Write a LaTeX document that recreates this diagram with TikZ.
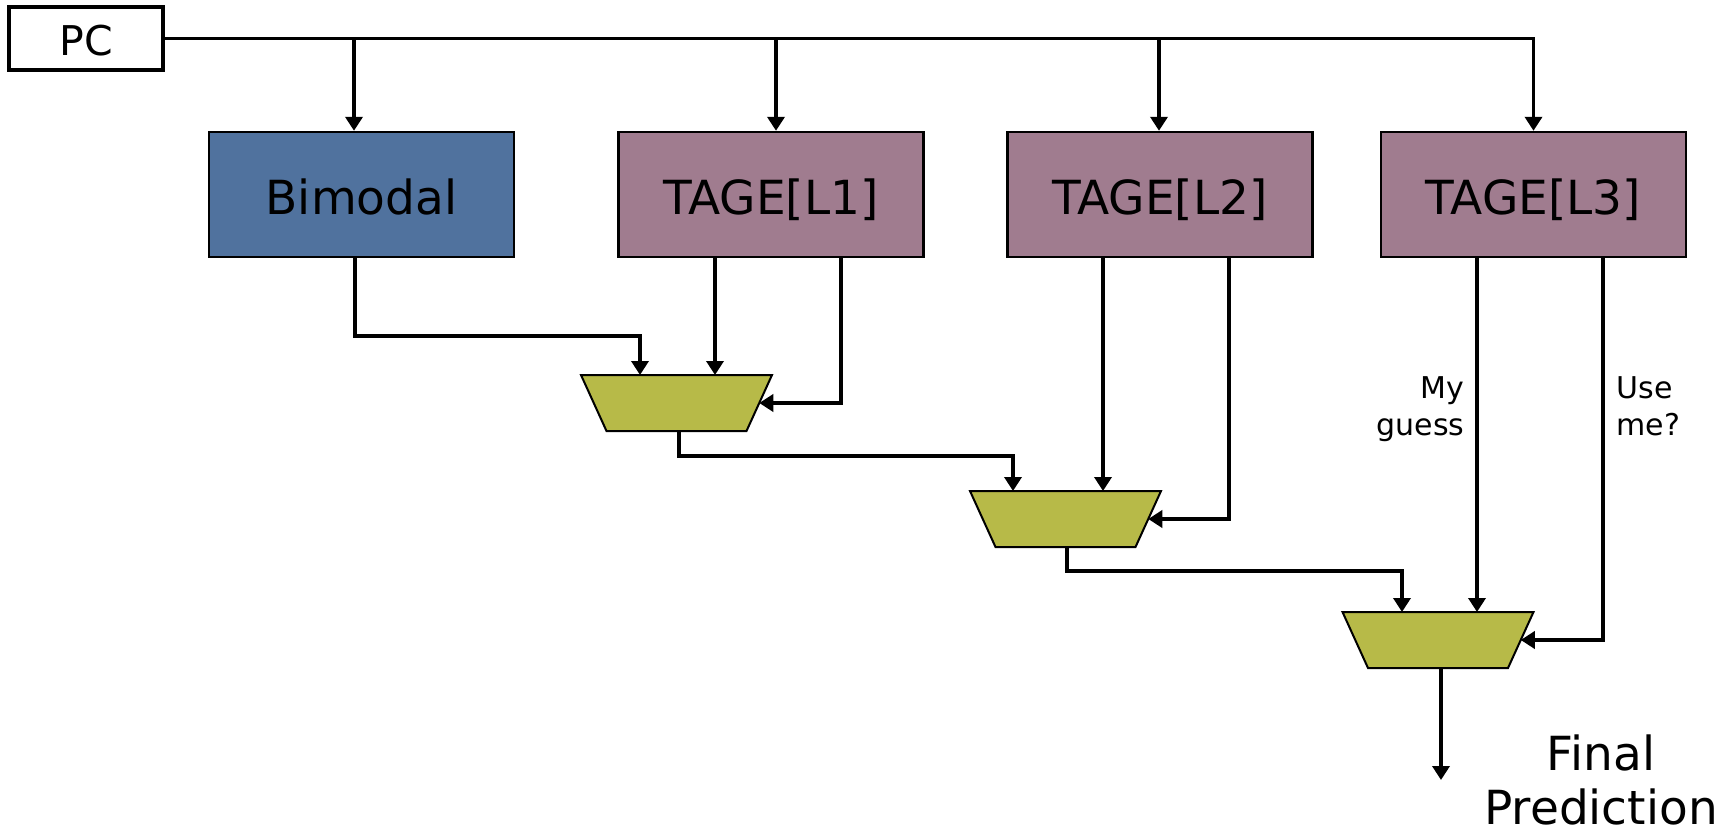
\documentclass[tikz,border=0pt]{standalone}
\usepackage{fontspec}
\setmainfont{DejaVu Sans}
\usetikzlibrary{arrows.meta}
\definecolor{bimblue}{RGB}{80,114,158}
\definecolor{tagemauve}{RGB}{160,124,143}
\definecolor{muxolive}{RGB}{183,186,72}
\tikzset{
  wire/.style={line width=1.75pt, line join=miter},
  arr/.style={wire, -{Triangle[length=7pt,width=8.5pt]}},
  pcbox/.style={draw, line width=1.6pt, fill=white, inner sep=0pt, minimum width=77pt, minimum height=31.5pt, text height=16.5pt, text depth=0pt, font=\fontsize{20.5}{24}\selectfont},
  predbox/.style={draw, line width=1.2pt, inner sep=0pt, minimum width=152.5pt, minimum height=62.5pt, text height=19.5pt, text depth=0pt, font=\fontsize{23.5}{28}\selectfont},
  muxshape/.style={draw, line width=1pt, fill=muxolive, line join=miter},
  lbl/.style={inner sep=0pt, font=\fontsize{15}{18.5}\selectfont},
  biglbl/.style={inner sep=0pt, font=\fontsize{23.5}{27}\selectfont}
}
% mux: name, centre x, centre y
\newcommand{\muxdraw}[3]{%
  \draw[muxshape] ({#2-95.5},{#3-28}) -- ({#2+95.5},{#3-28}) -- ({#2+70},{#3+28}) -- ({#2-70},{#3+28}) -- cycle;
  \coordinate (#1-n) at (#2,{#3-28});
  \coordinate (#1-s) at (#2,{#3+28});
  \coordinate (#1-e) at ({#2+82.75},#3);
}
\begin{document}
\begin{tikzpicture}[x=0.5pt,y=-0.5pt]
\useasboundingbox (0,0) rectangle (1736,835);
% nodes
\node[pcbox] (pc) at (86,38.5) {PC};
\node[predbox, fill=bimblue] (bim) at (361.5,194.5) {Bimodal};
\node[predbox, fill=tagemauve] (t1) at (771,194.5) {TAGE[L1]};
\node[predbox, fill=tagemauve] (t2) at (1160,194.5) {TAGE[L2]};
\node[predbox, fill=tagemauve] (t3) at (1533.5,194.5) {TAGE[L3]};
\muxdraw{m1}{676.5}{403}
\muxdraw{m2}{1065.5}{519}
\muxdraw{m3}{1438}{640}
% x positions of wires
\coordinate (xb) at (354,0);
\coordinate (x1) at (776,0);
\coordinate (x2) at (1159,0);
\coordinate (xbo) at (355,0);
\coordinate (ja) at (640,336);
\coordinate (x1a) at (715,0);
\coordinate (x1b) at (841,0);
\coordinate (x1o) at (679,0);
\coordinate (jb) at (1013,456);
\coordinate (x2a) at (1103,0);
\coordinate (x2b) at (1229,0);
\coordinate (x2o) at (1067,0);
\coordinate (jc) at (1402,571);
\coordinate (x3a) at (1477,0);
\coordinate (x3b) at (1603,0);
\coordinate (out) at (1441,780);
% PC distribution
\draw[arr] (pc.east) -| (t3.north);
\draw[arr] (pc.east -| xb) -- (xb |- bim.north);
\draw[arr] (pc.east -| x1) -- (x1 |- t1.north);
\draw[arr] (pc.east -| x2) -- (x2 |- t2.north);
% stage 1
\draw[arr] (bim.south -| xbo) |- (ja) -- (ja |- m1-n);
\draw[arr] (t1.south -| x1a) -- (x1a |- m1-n);
\draw[arr] (t1.south -| x1b) |- (m1-e);
% stage 2
\draw[arr] (m1-s -| x1o) |- (jb) -- (jb |- m2-n);
\draw[arr] (t2.south -| x2a) -- (x2a |- m2-n);
\draw[arr] (t2.south -| x2b) |- (m2-e);
% stage 3
\draw[arr] (m2-s -| x2o) |- (jc) -- (jc |- m3-n);
\draw[arr] (t3.south -| x3a) -- (x3a |- m3-n);
\draw[arr] (t3.south -| x3b) |- (m3-e);
\draw[arr] (m3-s -| out) -- (out);
% labels
\node[lbl, align=right, anchor=north east] (lg) at (1465,376) {My\\guess};
\node[lbl, align=left, anchor=north west] (lu) at (1616,376) {Use\\me?};
\node[biglbl, align=center, anchor=north] (fp) at (1601,734) {Final\\Prediction};
\end{tikzpicture}
\end{document}
